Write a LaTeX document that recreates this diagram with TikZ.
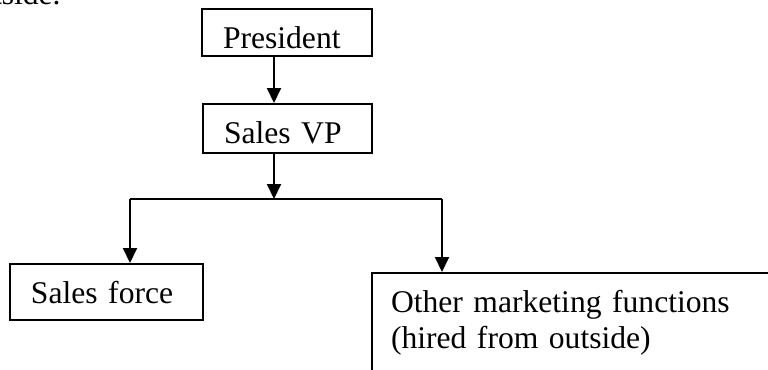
\documentclass[tikz,border=0pt]{standalone}
\usepackage{fontspec}
\setmainfont{Liberation Serif}
\usetikzlibrary{arrows.meta}

\begin{document}
\begin{tikzpicture}[x=0.5pt,y=-0.5pt,
 box/.style={draw,line width=1pt,anchor=north west,align=left,
 inner xsep=10.5pt,inner ysep=0pt,text height=19.5pt},
 arr/.style={-{Triangle[length=7.5pt,width=7pt]},line width=1pt}]
 \useasboundingbox (0,0) rectangle (768,370);
 \clip (0,0) rectangle (768,370);
 \fontsize{15.8pt}{18pt}\selectfont
 \node[anchor=base east,inner sep=0pt] (cut) at (61,4) {outside.};
 \node[box,text width=64pt,text depth=4pt] (pres) at (201,8) {President};
 \node[box,text width=63.5pt,text depth=5pt] (vp) at (202,103) {Sales VP};
 \node[box,text width=75.5pt,text depth=8.5pt] (force) at (9,263) {Sales force};
 \node[box,inner xsep=9.5pt,text width=181pt,text depth=35pt] (other) at (371,272)
 {Other marketing functions\\(hired from outside)};
 \coordinate (split) at (274,199);
 \coordinate (forkL) at (130,199);
 \coordinate (forkR) at (442,199);
 \draw[arr] (pres.south -| split)--(vp.north -| split);
 \draw[arr] (vp.south -| split)--(split);
 \draw[line width=1pt] (forkL)--(forkR);
 \draw[arr] (forkL)--(force.north -| forkL);
 \draw[arr] (forkR)--(other.north -| forkR);
\end{tikzpicture}
\end{document}
